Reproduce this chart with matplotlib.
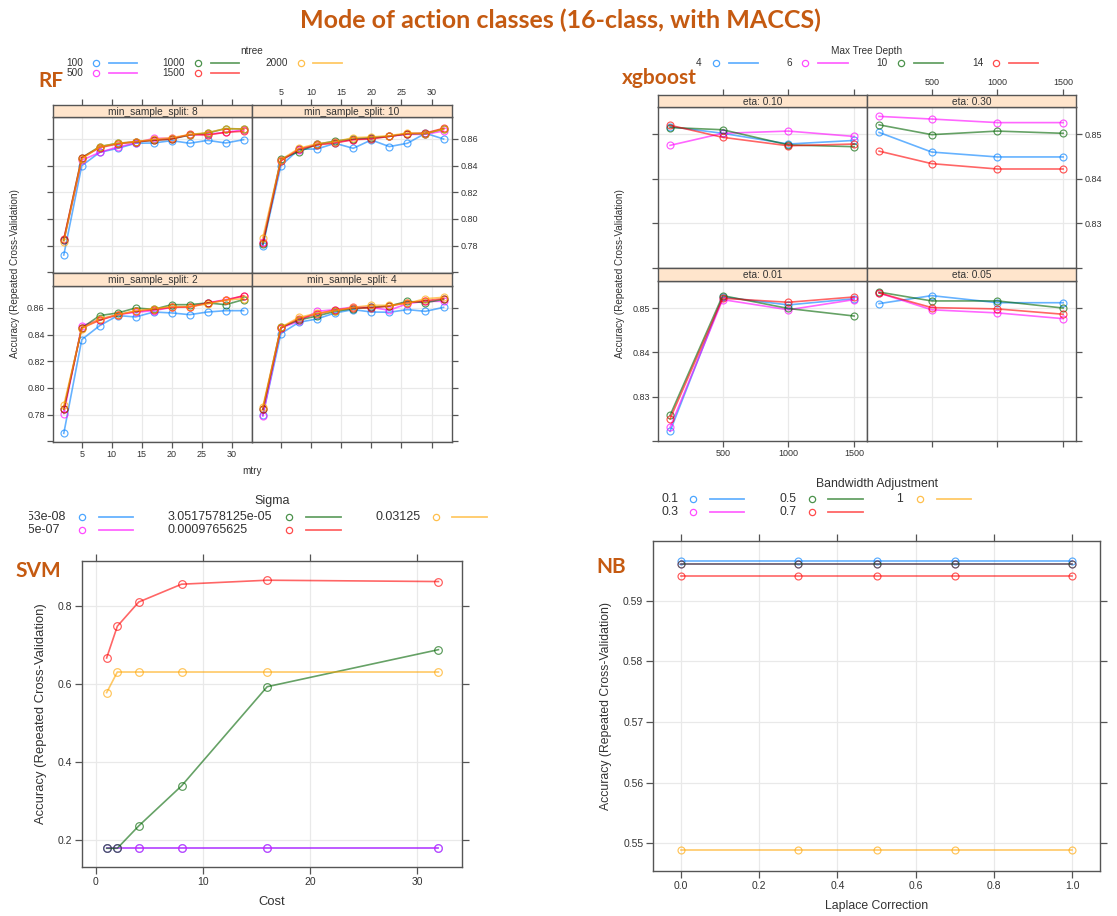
import matplotlib.pyplot as plt
from matplotlib.lines import Line2D
from matplotlib.transforms import Bbox, TransformedBbox

plt.rcParams['font.family'] = ['Liberation Sans', 'DejaVu Sans']

W, H = 1117, 916
fig = plt.figure(figsize=(W / 100, H / 100), dpi=100)

COLS = ['#0080ff', '#ff00ff', '#006400', '#ff0000', '#ffa500']
ORANGE = '#c55a11'
STRIP = '#ffe5cc'
EDGE = '#555555'
GRID = '#e9e9e9'
TXT = '#333333'

# ---------------- data ----------------
# RF: accuracy vs mtry, one panel per min_sample_split, one line per ntree
mtry = [2, 5, 8, 11, 14, 17, 20, 23, 26, 29, 32]
ntree = ['100', '500', '1000', '1500', '2000']
rf_split8 = [
    [0.773, 0.840, 0.850, 0.853, 0.8568, 0.857, 0.8588, 0.8568, 0.859, 0.857, 0.8595],
    [0.784, 0.844, 0.850, 0.854, 0.857, 0.8605, 0.8605, 0.863, 0.8635, 0.865, 0.8668],
    [0.784, 0.846, 0.8543, 0.8568, 0.8578, 0.859, 0.860, 0.863, 0.8645, 0.8678, 0.8675],
    [0.785, 0.846, 0.8535, 0.8563, 0.858, 0.859, 0.860, 0.8635, 0.863, 0.865, 0.8658],
    [0.783, 0.845, 0.8543, 0.8568, 0.858, 0.8598, 0.861, 0.8633, 0.8648, 0.8678, 0.8675],
]
rf_split10 = [
    [0.780, 0.840, 0.8523, 0.8525, 0.8568, 0.853, 0.8593, 0.8543, 0.8568, 0.8643, 0.860],
    [0.783, 0.844, 0.852, 0.856, 0.8575, 0.8595, 0.8605, 0.862, 0.8635, 0.8635, 0.866],
    [0.781, 0.845, 0.8505, 0.856, 0.8585, 0.860, 0.861, 0.862, 0.864, 0.864, 0.8675],
    [0.782, 0.8435, 0.8525, 0.8555, 0.857, 0.8595, 0.860, 0.862, 0.864, 0.8645, 0.868],
    [0.786, 0.8445, 0.853, 0.8565, 0.858, 0.861, 0.8615, 0.8625, 0.8645, 0.864, 0.8675],
]
rf_split2 = [
    [0.766, 0.8363, 0.8468, 0.8543, 0.8533, 0.857, 0.8563, 0.855, 0.857, 0.858, 0.858],
    [0.7808, 0.8465, 0.8513, 0.855, 0.8568, 0.858, 0.8605, 0.8608, 0.8638, 0.8663, 0.8688],
    [0.784, 0.845, 0.8543, 0.8563, 0.860, 0.859, 0.8625, 0.8625, 0.8638, 0.8625, 0.8663],
    [0.784, 0.845, 0.8508, 0.855, 0.8575, 0.8588, 0.8605, 0.8608, 0.8638, 0.8658, 0.8693],
    [0.787, 0.8445, 0.852, 0.855, 0.858, 0.8595, 0.861, 0.861, 0.863, 0.866, 0.867],
]
rf_split4 = [
    [0.7795, 0.8408, 0.8493, 0.8518, 0.8563, 0.8588, 0.857, 0.8568, 0.8588, 0.8575, 0.8605],
    [0.779, 0.845, 0.850, 0.8575, 0.8588, 0.8608, 0.8605, 0.8583, 0.8633, 0.865, 0.865],
    [0.784, 0.8455, 0.851, 0.854, 0.8575, 0.8595, 0.8605, 0.8615, 0.865, 0.864, 0.8665],
    [0.784, 0.845, 0.852, 0.8555, 0.8585, 0.860, 0.860, 0.8615, 0.864, 0.8655, 0.867],
    [0.786, 0.8455, 0.853, 0.856, 0.858, 0.8605, 0.862, 0.862, 0.8635, 0.867, 0.868],
]

# xgboost: accuracy vs boosting iterations, one panel per eta, one line per depth
nrounds = [100, 500, 1000, 1500]
depths = ['4', '6', '10', '14']
xgb_eta10 = [
    [0.8517, 0.8502, 0.8478, 0.8486],
    [0.8475, 0.8502, 0.8507, 0.8495],
    [0.8515, 0.8510, 0.8476, 0.8472],
    [0.8520, 0.8493, 0.8474, 0.8478],
]
xgb_eta30 = [
    [0.8504, 0.8460, 0.8449, 0.8449],
    [0.8540, 0.8534, 0.8526, 0.8526],
    [0.8521, 0.8499, 0.8507, 0.8502],
    [0.8462, 0.8434, 0.8422, 0.8422],
]
xgb_eta01 = [
    [0.8222, 0.8525, 0.8507, 0.8521],
    [0.8231, 0.8519, 0.8496, 0.8519],
    [0.8258, 0.8528, 0.8499, 0.8482],
    [0.8250, 0.8522, 0.8513, 0.8525],
]
xgb_eta05 = [
    [0.8510, 0.8528, 0.8512, 0.8512],
    [0.8534, 0.8496, 0.8489, 0.8476],
    [0.8536, 0.8516, 0.8516, 0.8500],
    [0.8534, 0.8501, 0.8498, 0.8486],
]

# SVM: accuracy vs cost, one line per sigma
cost = [1, 2, 4, 8, 16, 32]
sigma = ['2.98023223876953e-08', '4.76837158203125e-07', '3.0517578125e-05',
         '0.0009765625', '0.03125']
svm_acc = [
    [0.1795, 0.1795, 0.1795, 0.1795, 0.1795, 0.1795],
    [0.1795, 0.1795, 0.1795, 0.1795, 0.1795, 0.1795],
    [0.1795, 0.1795, 0.2368, 0.3393, 0.5932, 0.688],
    [0.6667, 0.748, 0.810, 0.8556, 0.8658, 0.8624],
    [0.578, 0.6308, 0.6308, 0.6308, 0.6308, 0.6308],
]

# NB: accuracy vs Laplace correction, one line per bandwidth adjustment
laplace = [0.0, 0.3, 0.5, 0.7, 1.0]
bandwidth = ['0.1', '0.3', '0.5', '0.7', '1']
nb_acc = [
    [0.5966] * 5,
    [0.5961] * 5,
    [0.5961] * 5,
    [0.5941] * 5,
    [0.5488] * 5,
]


# ---------------- helpers ----------------
def rect(x0, y0, x1, y1):
    return [x0 / W, 1 - y1 / H, (x1 - x0) / W, (y1 - y0) / H]


def fx(x):
    return x / W


def fy(y):
    return 1 - y / H


def style(ax, fs):
    for s in ax.spines.values():
        s.set_color(EDGE)
        s.set_linewidth(1.0)
    ax.tick_params(direction='out', length=4, width=0.9, color=EDGE,
                   labelsize=fs, labelcolor=TXT, pad=2)
    ax.set_axisbelow(True)


def draw_lines(ax, x, series, ms=5):
    for ys, c in zip(series, COLS):
        ax.plot(x, ys, color=c, alpha=0.6, lw=1.2)
        ax.plot(x, ys, ls='none', marker='o', ms=ms, mfc='none', mec=c,
                mew=0.85, alpha=0.65)


def lattice(cols_x, rows_y, panels, x, xlim, ylim, xticks, xlabels, yticks, ylabels, fs):
    for r, (st, pt, pb) in enumerate(rows_y):
        for c, (x0, x1) in enumerate(cols_x):
            name, series = panels[r][c]
            ax = fig.add_axes(rect(x0, pt, x1, pb))
            ax.set_xlim(xlim)
            ax.set_ylim(ylim)
            ax.set_xticks(xticks)
            ax.set_xticklabels(xlabels)
            ax.set_yticks(yticks)
            ax.set_yticklabels(ylabels)
            ax.grid(True, color=GRID, lw=0.9)
            style(ax, fs)
            draw_lines(ax, x, series)
            ax.tick_params(top=False, bottom=(r == 1), left=(c == 0), right=(c == 1),
                           labelbottom=(r == 1 and c == 0), labelleft=(r == 1 and c == 0),
                           labelright=(r == 0 and c == 1))
            sax = fig.add_axes(rect(x0, st, x1, pt))
            sax.set_facecolor(STRIP)
            sax.set_xlim(xlim)
            sax.set_yticks([])
            style(sax, fs)
            if r == 0:
                sax.set_xticks(xticks)
                sax.set_xticklabels(xlabels)
                sax.tick_params(top=True, bottom=False, labelbottom=False,
                                labeltop=(c == 1))
            else:
                sax.set_xticks([])
            sax.text(0.5, 0.45, name, transform=sax.transAxes, ha='center',
                     va='center', fontsize=fs + 0.8, color=TXT)


def key(title, tx, ty, entries, fs, clip_x=None):
    # entries: (label, ha, label_x, marker_x, line_x0, line_x1, y, color)
    fig.text(fx(tx), fy(ty), title, ha='center', va='center', fontsize=fs, color=TXT)
    for lab, ha, lx, mx, l0, l1, y, c in entries:
        t = fig.text(fx(lx), fy(y), lab, ha=ha, va='center', fontsize=fs, color=TXT)
        if clip_x is not None:
            t.set_clip_box(TransformedBbox(Bbox([[fx(clip_x), 0], [1, 1]]), fig.transFigure))
            t.set_clip_on(True)
        fig.add_artist(Line2D([fx(mx)], [fy(y)], marker='o', ms=4.5, mfc='none',
                              mec=c, mew=0.9, alpha=0.7, transform=fig.transFigure))
        fig.add_artist(Line2D([fx(l0), fx(l1)], [fy(y), fy(y)], color=c, lw=1.3,
                              alpha=0.6, transform=fig.transFigure))


# ---------------- title + tags ----------------
fig.text(fx(560), fy(20), 'Mode of action classes (16-class, with MACCS)', ha='center',
         va='center', fontsize=18, fontweight='bold', color=ORANGE, family='Lato')
for tag, x, y in [('RF', 51, 81), ('xgboost', 659, 78), ('SVM', 38, 571), ('NB', 611, 567)]:
    fig.text(fx(x), fy(y), tag, ha='center', va='center', fontsize=15,
             fontweight='bold', color=ORANGE, family='Lato')

# ---------------- RF ----------------
rf_ticks = [0.76, 0.78, 0.80, 0.82, 0.84, 0.86]
lattice([(53, 252), (252, 452)], [(105, 117, 273), (273, 286, 442)],
        [[('min_sample_split: 8', rf_split8), ('min_sample_split: 10', rf_split10)],
         [('min_sample_split: 2', rf_split2), ('min_sample_split: 4', rf_split4)]],
        mtry, (0.2, 33.4), (0.7595, 0.8765), [5, 10, 15, 20, 25, 30],
        ['5', '10', '15', '20', '25', '30'], rf_ticks,
        [''] + ['%.2f' % v for v in rf_ticks[1:]], 6.5)
fig.text(fx(252), fy(471), 'mtry', ha='center', va='center', fontsize=7.2, color=TXT)
fig.text(fx(15), fy(274), 'Accuracy (Repeated Cross-Validation)', ha='center',
         va='center', rotation=90, fontsize=7.2, color=TXT)
key('ntree', 252, 51, [
    (ntree[0], 'right', 83, 96, 109, 137, 63, COLS[0]),
    (ntree[1], 'right', 83, 96, 109, 137, 73, COLS[1]),
    (ntree[2], 'right', 185, 198, 211, 239, 63, COLS[2]),
    (ntree[3], 'right', 185, 198, 211, 239, 73, COLS[3]),
    (ntree[4], 'right', 288, 301, 313, 342, 63, COLS[4]),
], 7.2)

# ---------------- xgboost ----------------
xgb_ticks = [0.82, 0.83, 0.84, 0.85]
lattice([(658, 867), (867, 1076)], [(95, 107, 268), (268, 281, 441)],
        [[('eta: 0.10', xgb_eta10), ('eta: 0.30', xgb_eta30)],
         [('eta: 0.01', xgb_eta01), ('eta: 0.05', xgb_eta05)]],
        nrounds, (8, 1598), (0.8200, 0.8561), [500, 1000, 1500],
        ['500', '1000', '1500'], xgb_ticks,
        [''] + ['%.2f' % v for v in xgb_ticks[1:]], 6.5)
fig.text(fx(620), fy(274), 'Accuracy (Repeated Cross-Validation)', ha='center',
         va='center', rotation=90, fontsize=7.2, color=TXT)
key('Max Tree Depth', 867, 51, [
    (depths[0], 'right', 701, 716, 729, 758, 63, COLS[0]),
    (depths[1], 'right', 792, 805, 818, 848, 63, COLS[1]),
    (depths[2], 'right', 888, 901, 914, 943, 63, COLS[2]),
    (depths[3], 'right', 984, 996, 1009, 1038, 63, COLS[3]),
], 7.2)

# ---------------- SVM ----------------
ax = fig.add_axes(rect(82, 561, 462, 867))
ax.set_xlim(-1.3, 34.2)
ax.set_ylim(0.1316, 0.915)
ax.set_xticks([0, 10, 20, 30])
ax.set_yticks([0.2, 0.4, 0.6, 0.8])
ax.grid(True, color=GRID, lw=0.9)
style(ax, 7.5)
ax.tick_params(top=True, right=True, length=5)
draw_lines(ax, cost, svm_acc, ms=5.5)
ax.set_xlabel('Cost', fontsize=9.4, color=TXT, labelpad=7)
ax.set_ylabel('Accuracy (Repeated Cross-Validation)', fontsize=9.4, color=TXT, labelpad=8)
key('Sigma', 272, 501, [
    (sigma[0], 'right', 66, 82, 99, 133, 517, COLS[0]),
    (sigma[1], 'right', 60, 82, 99, 133, 530, COLS[1]),
    (sigma[2], 'left', 168, 289, 306, 341, 517, COLS[2]),
    (sigma[3], 'left', 168, 289, 306, 341, 530, COLS[3]),
    (sigma[4], 'left', 375, 436, 452, 487, 517, COLS[4]),
], 9, clip_x=29)

# ---------------- NB ----------------
ax = fig.add_axes(rect(653, 541, 1100, 871))
ax.set_xlim(-0.0716, 1.0716)
ax.set_ylim(0.5454, 0.59985)
ax.set_xticks([0.0, 0.2, 0.4, 0.6, 0.8, 1.0])
ax.set_yticks([0.55, 0.56, 0.57, 0.58, 0.59])
ax.grid(True, color=GRID, lw=0.9)
style(ax, 7.5)
ax.tick_params(top=True, right=True, length=5)
draw_lines(ax, laplace, nb_acc, ms=5)
ax.set_xlabel('Laplace Correction', fontsize=8.8, color=TXT, labelpad=7)
ax.set_ylabel('Accuracy (Repeated Cross-Validation)', fontsize=8.8, color=TXT, labelpad=8)
key('Bandwidth Adjustment', 877, 484, [
    (bandwidth[0], 'left', 661, 693, 710, 744, 499, COLS[0]),
    (bandwidth[1], 'left', 661, 693, 710, 744, 512, COLS[1]),
    (bandwidth[2], 'left', 779, 812, 828, 863, 499, COLS[2]),
    (bandwidth[3], 'left', 779, 812, 828, 863, 512, COLS[3]),
    (bandwidth[4], 'right', 903, 920, 937, 971, 499, COLS[4]),
], 8.8)

fig.savefig('out.png', dpi=100)
